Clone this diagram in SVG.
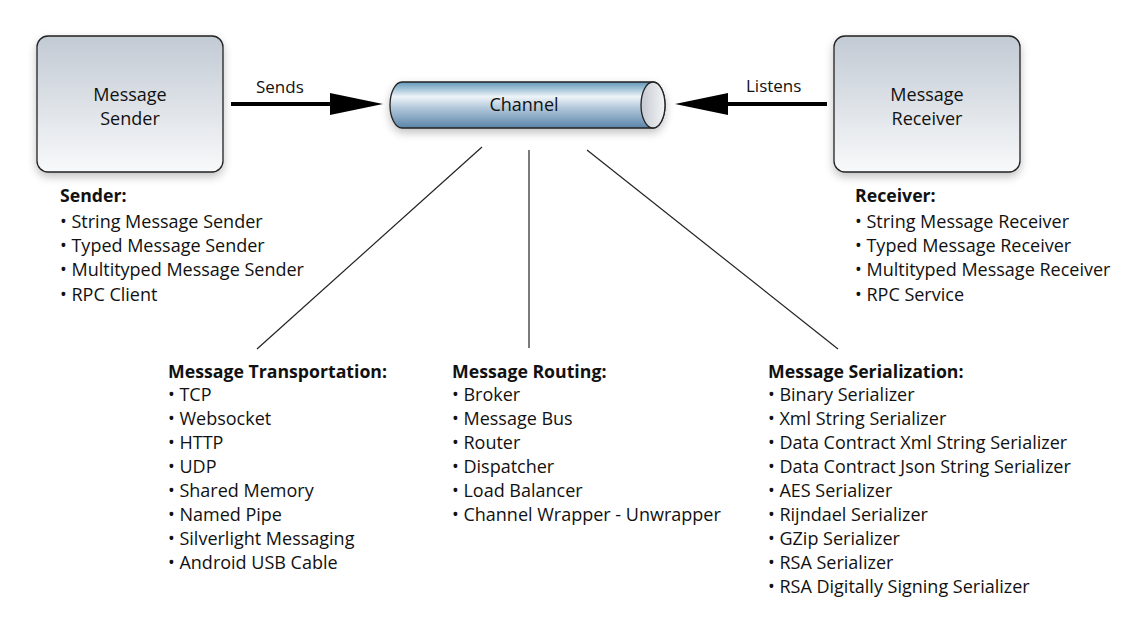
<svg xmlns="http://www.w3.org/2000/svg" width="1127" height="624" viewBox="0 0 1127 624">
<style>
text{font-family:"Open Sans","Noto Sans",sans-serif;fill:#111;}
.lbl{font-size:18px;}
.al{font-size:17px;}
.mid{text-anchor:middle;}
.hd{font-size:17.7px;font-weight:bold;}
.it{font-size:18px;}
.box{fill:url(#boxg);stroke:#222;stroke-width:1.3;filter:url(#sh);}
.ln{stroke:#222;stroke-width:1.2;fill:none;}
.arr{stroke:#000;stroke-width:4;fill:none;}
</style>
<defs>
<linearGradient id="boxg" x1="0" y1="0" x2="0" y2="1">
<stop offset="0" stop-color="#c2cad4"/>
<stop offset="1" stop-color="#f8f9fa"/>
</linearGradient>
<linearGradient id="cylg" x1="0" y1="0" x2="0" y2="1">
<stop offset="0" stop-color="#6199ba"/>
<stop offset="0.32" stop-color="#eef4f8"/>
<stop offset="0.55" stop-color="#b5cadc"/>
<stop offset="1" stop-color="#5a84a9"/>
</linearGradient>
<linearGradient id="capg" x1="0" y1="0" x2="1" y2="0">
<stop offset="0" stop-color="#c5c9d0"/>
<stop offset="1" stop-color="#f3f4f6"/>
</linearGradient>
<filter id="sh" x="-20%" y="-20%" width="140%" height="150%">
<feGaussianBlur in="SourceAlpha" stdDeviation="5"/>
<feOffset dy="4" result="b"/>
<feComponentTransfer><feFuncA type="linear" slope="0.25"/></feComponentTransfer>
<feMerge><feMergeNode/><feMergeNode in="SourceGraphic"/></feMerge>
</filter>
</defs>
<rect width="1127" height="624" fill="#fff"/>

<g id="connectors">
<line class="arr" x1="231" y1="104" x2="334" y2="104"/>
<polygon points="330,93 383,104 330,115" fill="#000"/>
<text class="al" x="256" y="93">Sends</text>
<line class="arr" x1="724" y1="104" x2="827" y2="104"/>
<polygon points="728,93 675,104 728,115" fill="#000"/>
<text class="al" x="746" y="92">Listens</text>
<line class="ln" x1="482" y1="147" x2="257" y2="349"/>
<line class="ln" x1="529" y1="150" x2="529" y2="348"/>
<line class="ln" x1="587" y1="150" x2="838" y2="349"/>
</g>

<g id="sender">
<rect class="box" x="37" y="36" width="186" height="136" rx="11"/>
<text class="lbl mid" x="130" y="101">Message</text>
<text class="lbl mid" x="130" y="125">Sender</text>
</g>

<g id="receiver">
<rect class="box" x="834" y="36" width="186" height="136" rx="11"/>
<text class="lbl mid" x="927" y="101">Message</text>
<text class="lbl mid" x="927" y="125">Receiver</text>
</g>

<g id="channel">
<path d="M402,82 H653 A12,23 0 0 1 653,128 H402 A12,23 0 0 1 402,82 Z" fill="url(#cylg)" stroke="#222" stroke-width="1.3" filter="url(#sh)"/>
<ellipse cx="653" cy="105" rx="12" ry="23" fill="url(#capg)" stroke="#222" stroke-width="1.3"/>
<text class="lbl mid" x="524" y="111">Channel</text>
</g>

<g id="sender-list">
<text class="hd" x="60" y="202">Sender:</text>
<text class="it" x="60" y="228">• String Message Sender</text>
<text class="it" x="60" y="252">• Typed Message Sender</text>
<text class="it" x="60" y="276">• Multityped Message Sender</text>
<text class="it" x="60" y="301">• RPC Client</text>
</g>

<g id="receiver-list">
<text class="hd" x="855" y="202">Receiver:</text>
<text class="it" x="855" y="228">• String Message Receiver</text>
<text class="it" x="855" y="252">• Typed Message Receiver</text>
<text class="it" x="855" y="276">• Multityped Message Receiver</text>
<text class="it" x="855" y="301">• RPC Service</text>
</g>

<g id="transportation">
<text class="hd" x="168" y="378">Message Transportation:</text>
<text class="it" x="168" y="401">• TCP</text>
<text class="it" x="168" y="425">• Websocket</text>
<text class="it" x="168" y="449">• HTTP</text>
<text class="it" x="168" y="473">• UDP</text>
<text class="it" x="168" y="497">• Shared Memory</text>
<text class="it" x="168" y="521">• Named Pipe</text>
<text class="it" x="168" y="545">• Silverlight Messaging</text>
<text class="it" x="168" y="569">• Android USB Cable</text>
</g>

<g id="routing">
<text class="hd" x="452" y="378">Message Routing:</text>
<text class="it" x="452" y="401">• Broker</text>
<text class="it" x="452" y="425">• Message Bus</text>
<text class="it" x="452" y="449">• Router</text>
<text class="it" x="452" y="473">• Dispatcher</text>
<text class="it" x="452" y="497">• Load Balancer</text>
<text class="it" x="452" y="521">• Channel Wrapper - Unwrapper</text>
</g>

<g id="serialization">
<text class="hd" x="768" y="378">Message Serialization:</text>
<text class="it" x="768" y="401">• Binary Serializer</text>
<text class="it" x="768" y="425">• Xml String Serializer</text>
<text class="it" x="768" y="449">• Data Contract Xml String Serializer</text>
<text class="it" x="768" y="473">• Data Contract Json String Serializer</text>
<text class="it" x="768" y="497">• AES Serializer</text>
<text class="it" x="768" y="521">• Rijndael Serializer</text>
<text class="it" x="768" y="545">• GZip Serializer</text>
<text class="it" x="768" y="569">• RSA Serializer</text>
<text class="it" x="768" y="593">• RSA Digitally Signing Serializer</text>
</g>
</svg>
